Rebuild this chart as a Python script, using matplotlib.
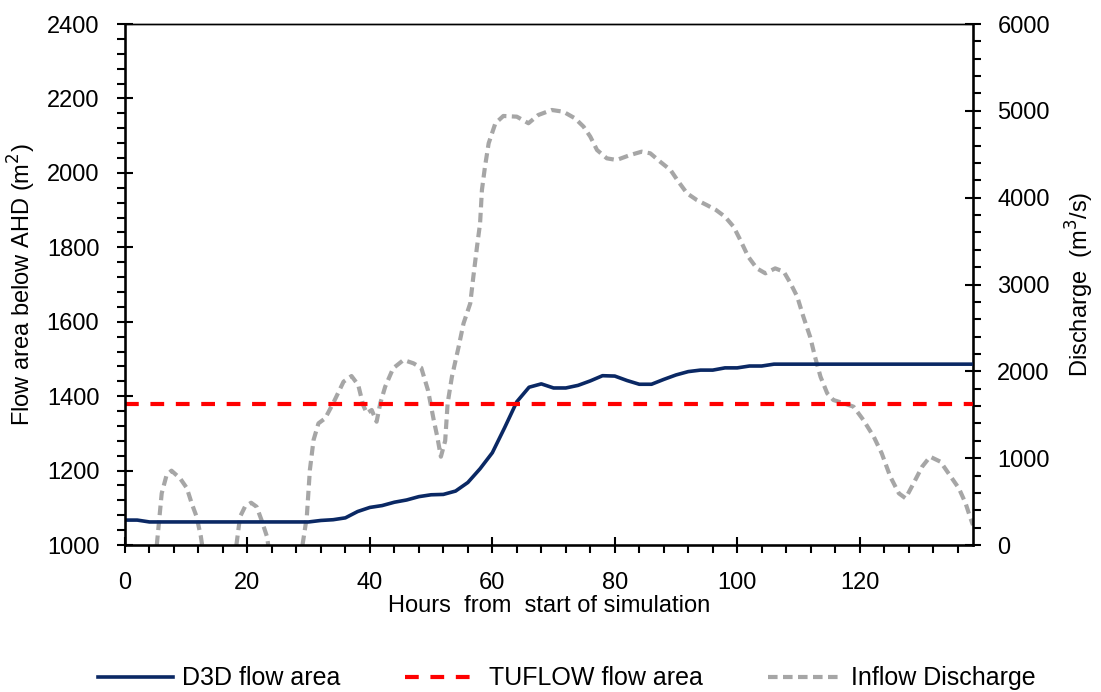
import matplotlib.pyplot as plt
import numpy as np

plt.rcParams['font.family'] = ['Liberation Sans', 'DejaVu Sans']

# D3D flow area below AHD (m2)
d3d_hours = [0, 2, 4, 30, 32, 34, 36, 38, 40, 42, 44, 46, 48, 50, 52, 54, 56, 58,
             60, 62, 64, 66, 68, 70, 72, 74, 76, 78, 80, 82, 84, 86, 88, 90, 92,
             94, 96, 98, 100, 102, 104, 106, 138.5]
d3d_area = [1067, 1067, 1062, 1062, 1066, 1068, 1073, 1090, 1101, 1106, 1115, 1121,
            1130, 1135, 1136, 1145, 1168, 1205, 1248, 1315, 1385, 1424, 1433, 1422,
            1422, 1429, 1441, 1455, 1454, 1442, 1432, 1432, 1445, 1457, 1466, 1470,
            1470, 1476, 1476, 1481, 1481, 1486, 1486]

# TUFLOW flow area (constant)
tuflow_hours = [0, 138.5]
tuflow_area = [1380, 1380]

# Inflow discharge (m3/s); NaN where the series drops out
inflow_hours = [5.2, 6.0, 6.8, 7.6, 9.0, 10.1, 10.9, 11.7, 12.4, 12.6, 13.0,
                18.2, 18.8, 19.6, 20.6, 21.5, 22.3, 23.2, 23.4, 24.0,
                29.0, 29.7, 30.2, 30.8, 31.6, 32.7, 34.0, 35.7, 37.0, 38.1, 38.9,
                39.5, 40.3, 41.1, 41.7, 42.5, 43.8, 45.5, 47.1, 48.4, 49.5, 50.4,
                51.0, 51.6, 52.3, 52.7, 53.4, 54.5, 55.3, 56.4, 56.9, 57.5, 58.0,
                58.3, 58.8, 59.4, 60.5, 61.8, 64.0, 65.9, 67.5, 69.7, 71.6, 73.5,
                74.9, 76.0, 77.1, 78.7, 80.3, 82.5, 84.4, 85.8, 87.4, 89.1, 90.4,
                91.8, 93.4, 95.0, 96.5, 98.0, 99.4, 100.5, 101.8, 103.2, 104.6,
                106.2, 107.6, 108.7, 109.8, 110.8, 111.9, 112.7, 113.6, 114.7,
                115.7, 117.4, 119.0, 120.6, 122.3, 123.6, 125.0, 126.4, 127.5,
                128.8, 130.2, 131.5, 133.2, 134.5, 136.2, 137.3, 138.1, 138.5]
inflow_q = [0, 595, 806, 856, 768, 656, 480, 326, 96, 0, np.nan,
            0, 326, 441, 487, 441, 288, 96, 0, np.nan,
            0, 326, 864, 1209, 1401, 1459, 1632, 1881, 1946, 1843, 1612,
            1517, 1555, 1420, 1632, 1823, 2035, 2131, 2093, 2040, 1780, 1450,
            1250, 1017, 1200, 1632, 1938, 2284, 2553, 2784, 3090, 3436, 3705,
            4088, 4357, 4626, 4857, 4941, 4933, 4857, 4952, 5010, 4990, 4914,
            4818, 4703, 4549, 4453, 4434, 4491, 4530, 4511, 4415, 4319, 4184,
            4050, 3973, 3916, 3860, 3781, 3666, 3513, 3320, 3186, 3129,
            3186, 3148, 3014, 2860, 2630, 2399, 2169, 1938, 1747,
            1670, 1632, 1593, 1440, 1247, 1056, 787, 595, 538,
            711, 902, 1017, 959, 826, 653, 480, 307, 230]

fig = plt.figure(figsize=(11.01, 6.92), dpi=100)
ax = fig.add_axes([0.1135, 0.2124, 0.7702, 0.7529])
ax2 = ax.twinx()

l1, = ax.plot(d3d_hours, d3d_area, color='#0A2864', lw=2.6, label='D3D flow area')
l2, = ax.plot(tuflow_hours, tuflow_area, color='#FF0000', lw=3, dashes=(3.3, 2.8),
              label='TUFLOW flow area')
l3, = ax2.plot(inflow_hours, inflow_q, color='#A6A6A6', lw=3, dashes=(2.3, 1.3),
               label='Inflow Discharge')

ax.set_zorder(ax2.get_zorder() + 1)
ax.patch.set_visible(False)

ax.set_xlim(0, 138.5)
ax.set_ylim(1000, 2400)
ax2.set_ylim(0, 6000)
ax.set_xticks(np.arange(0, 121, 20))
ax.set_xticks(np.arange(0, 139, 4), minor=True)
ax.set_yticks(np.arange(1000, 2401, 200))
ax.set_yticks(np.arange(1000, 2401, 40), minor=True)
ax2.set_yticks(np.arange(0, 6001, 1000))
ax2.set_yticks(np.arange(0, 6001, 200), minor=True)

fs = 17
for a in (ax, ax2):
    a.tick_params(which='major', direction='inout', length=11, width=1.5,
                  labelsize=fs)
    a.tick_params(which='minor', direction='out', length=5.5, width=1.5)
    for s in a.spines.values():
        s.set_linewidth(1.0)
ax.spines['left'].set_linewidth(1.8)
ax.spines['bottom'].set_linewidth(1.8)
ax2.spines['right'].set_linewidth(1.8)
ax.tick_params(axis='y', right=False, which='both', pad=13)
ax.tick_params(axis='x', top=False, which='both', pad=14)
ax2.tick_params(axis='y', pad=12)

ax.set_xlabel('Hours  from  start of simulation', fontsize=fs, labelpad=1)
ax.set_ylabel('Flow area below AHD (m$^2$)', fontsize=fs, labelpad=6)
ax2.set_ylabel('Discharge  (m$^3$/s)', fontsize=fs, labelpad=10)

fig.legend(handles=[l1, l2, l3], loc='lower center', bbox_to_anchor=(0.515, -0.03),
           ncol=3, frameon=False, fontsize=fs + 1, handlelength=3.0,
           handletextpad=0.35, columnspacing=2.6)

fig.savefig('out.png', dpi=100)
